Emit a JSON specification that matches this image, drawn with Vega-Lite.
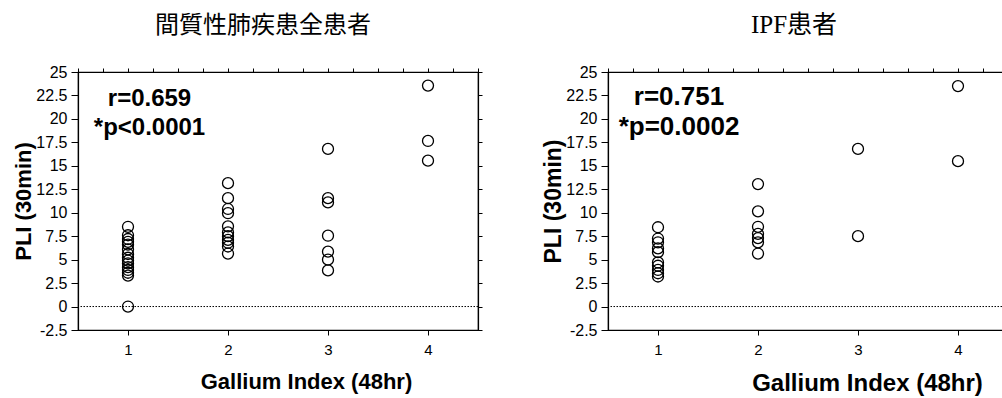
{
  "$schema": "https://vega.github.io/schema/vega-lite/v6.json",
  "padding": {"left": 12, "top": 12, "right": 0, "bottom": 0},
  "background": "white",
  "spacing": 58,
  "config": {
    "view": {"stroke": "black", "strokeWidth": 1.2},
    "axis": {"grid": false, "domainColor": "black", "tickColor": "black", "labelColor": "black", "titleColor": "black", "labelFont": "Liberation Sans", "titleFont": "Liberation Sans", "domainWidth": 1.2, "tickWidth": 1}
  },
  "datasets": {
    "all": [
      {"gallium": 1, "pli": 8.5}, {"gallium": 1, "pli": 7.6}, {"gallium": 1, "pli": 7.2}, {"gallium": 1, "pli": 6.9}, {"gallium": 1, "pli": 6.6},
      {"gallium": 1, "pli": 6.1}, {"gallium": 1, "pli": 5.6}, {"gallium": 1, "pli": 5.2}, {"gallium": 1, "pli": 4.9}, {"gallium": 1, "pli": 4.6},
      {"gallium": 1, "pli": 4.2}, {"gallium": 1, "pli": 3.9}, {"gallium": 1, "pli": 3.6}, {"gallium": 1, "pli": 3.3}, {"gallium": 1, "pli": 0},
      {"gallium": 2, "pli": 13.15}, {"gallium": 2, "pli": 11.55}, {"gallium": 2, "pli": 10.4}, {"gallium": 2, "pli": 9.95}, {"gallium": 2, "pli": 8.55},
      {"gallium": 2, "pli": 7.9}, {"gallium": 2, "pli": 7.5}, {"gallium": 2, "pli": 7.1}, {"gallium": 2, "pli": 6.8}, {"gallium": 2, "pli": 6.4}, {"gallium": 2, "pli": 5.65},
      {"gallium": 3, "pli": 16.8}, {"gallium": 3, "pli": 11.55}, {"gallium": 3, "pli": 11.1}, {"gallium": 3, "pli": 7.55}, {"gallium": 3, "pli": 5.85},
      {"gallium": 3, "pli": 5.0}, {"gallium": 3, "pli": 3.85},
      {"gallium": 4, "pli": 23.55}, {"gallium": 4, "pli": 17.65}, {"gallium": 4, "pli": 15.55}
    ],
    "ipf": [
      {"gallium": 1, "pli": 8.45}, {"gallium": 1, "pli": 7.25}, {"gallium": 1, "pli": 6.85}, {"gallium": 1, "pli": 6.2}, {"gallium": 1, "pli": 5.8},
      {"gallium": 1, "pli": 4.7}, {"gallium": 1, "pli": 4.35}, {"gallium": 1, "pli": 3.9}, {"gallium": 1, "pli": 3.55}, {"gallium": 1, "pli": 3.2},
      {"gallium": 2, "pli": 13.05}, {"gallium": 2, "pli": 10.15}, {"gallium": 2, "pli": 8.5}, {"gallium": 2, "pli": 7.75}, {"gallium": 2, "pli": 7.3},
      {"gallium": 2, "pli": 6.85}, {"gallium": 2, "pli": 5.65},
      {"gallium": 3, "pli": 16.8}, {"gallium": 3, "pli": 7.5},
      {"gallium": 4, "pli": 23.5}, {"gallium": 4, "pli": 15.5}
    ]
  },
  "hconcat": [
    {
      "width": 400,
      "height": 258,
      "title": {"text": "間質性肺疾患全患者", "font": "Liberation Serif, Noto Sans CJK JP", "fontSize": 24, "fontWeight": "normal", "color": "black", "dx": -15, "offset": 26},
      "layer": [
        {
          "data": {"name": "all"},
          "mark": {"type": "point", "shape": "circle", "filled": false, "stroke": "black", "strokeWidth": 1.3, "size": 121, "opacity": 1},
          "encoding": {
            "x": {"field": "gallium", "type": "quantitative", "scale": {"domain": [0.5, 4.5], "nice": false, "zero": false},
              "axis": {"orient": "bottom", "values": [1, 2, 3, 4], "tickSize": 5, "labelPadding": 7, "labelFontSize": 15, "title": "Gallium Index (48hr)", "titleFontSize": 22, "titleFontWeight": "bold", "titleX": 228, "titleAlign": "center", "titlePadding": 14}},
            "y": {"field": "pli", "type": "quantitative", "scale": {"domain": [-2.5, 25], "nice": false, "zero": false},
              "axis": {"orient": "left", "values": [-2.5, 0, 2.5, 5, 7.5, 10, 12.5, 15, 17.5, 20, 22.5, 25], "labelExpr": "toString(datum.value)", "tickSize": 7, "labelPadding": 4, "labelFontSize": 16, "title": "PLI (30min)", "titleFontSize": 22, "titleFontWeight": "bold", "titlePadding": 0}}
          }
        },
        {
          "data": {"values": [{}]},
          "mark": {"type": "text", "text": ["r=0.659", "*p<0.0001"], "align": "center", "baseline": "alphabetic", "fontSize": 24, "fontWeight": "bold", "font": "Liberation Sans", "lineHeight": 29, "color": "black"},
          "encoding": {
            "x": {"datum": 1.215, "type": "quantitative", "scale": {"domain": [0.5, 4.5], "nice": false, "zero": false},
              "axis": {"orient": "top", "values": [0.5, 0.75, 1, 1.25, 1.5, 1.75, 2, 2.25, 2.5, 2.75, 3, 3.25, 3.5, 3.75, 4, 4.25, 4.5], "labels": false, "tickSize": 4, "title": null}},
            "y": {"datum": 21.38, "type": "quantitative", "scale": {"domain": [-2.5, 25], "nice": false, "zero": false},
              "axis": {"orient": "right", "values": [-2.5, 0, 2.5, 5, 7.5, 10, 12.5, 15, 17.5, 20, 22.5, 25], "labels": false, "tickSize": 4, "title": null}}
          }
        },
        {
          "data": {"values": [{}]},
          "mark": {"type": "rule", "strokeDash": [1.5, 1.5], "color": "black", "strokeWidth": 1},
          "encoding": {"y": {"datum": 0, "type": "quantitative", "axis": null}}
        }
      ],
      "resolve": {"axis": {"x": "independent", "y": "independent"}}
    },
    {
      "width": 400,
      "height": 258,
      "title": {"text": "IPF患者", "font": "Liberation Serif, Noto Sans CJK JP", "fontSize": 25, "fontWeight": "normal", "color": "black", "dx": -14, "offset": 26},
      "layer": [
        {
          "data": {"name": "ipf"},
          "mark": {"type": "point", "shape": "circle", "filled": false, "stroke": "black", "strokeWidth": 1.3, "size": 121, "opacity": 1},
          "encoding": {
            "x": {"field": "gallium", "type": "quantitative", "scale": {"domain": [0.5, 4.5], "nice": false, "zero": false},
              "axis": {"orient": "bottom", "values": [1, 2, 3, 4], "tickSize": 5, "labelPadding": 7, "labelFontSize": 15, "title": "Gallium Index (48hr)", "titleFontSize": 24, "titleFontWeight": "bold", "titleX": 259, "titleAlign": "center", "titlePadding": 14}},
            "y": {"field": "pli", "type": "quantitative", "scale": {"domain": [-2.5, 25], "nice": false, "zero": false},
              "axis": {"orient": "left", "values": [-2.5, 0, 2.5, 5, 7.5, 10, 12.5, 15, 17.5, 20, 22.5, 25], "labelExpr": "toString(datum.value)", "tickSize": 7, "labelPadding": 4, "labelFontSize": 16, "title": "PLI (30min)", "titleFontSize": 23, "titleFontWeight": "bold", "titlePadding": 0}}
          }
        },
        {
          "data": {"values": [{}]},
          "mark": {"type": "text", "text": ["r=0.751", "*p=0.0002"], "align": "center", "baseline": "alphabetic", "fontSize": 26, "fontWeight": "bold", "font": "Liberation Sans", "lineHeight": 30, "color": "black"},
          "encoding": {
            "x": {"datum": 1.21, "type": "quantitative", "scale": {"domain": [0.5, 4.5], "nice": false, "zero": false},
              "axis": {"orient": "top", "values": [0.5, 0.75, 1, 1.25, 1.5, 1.75, 2, 2.25, 2.5, 2.75, 3, 3.25, 3.5, 3.75, 4, 4.25, 4.5], "labels": false, "tickSize": 4, "title": null}},
            "y": {"datum": 21.5, "type": "quantitative", "scale": {"domain": [-2.5, 25], "nice": false, "zero": false},
              "axis": {"orient": "right", "values": [-2.5, 0, 2.5, 5, 7.5, 10, 12.5, 15, 17.5, 20, 22.5, 25], "labels": false, "tickSize": 4, "title": null}}
          }
        },
        {
          "data": {"values": [{}]},
          "mark": {"type": "rule", "strokeDash": [1.5, 1.5], "color": "black", "strokeWidth": 1},
          "encoding": {"y": {"datum": 0, "type": "quantitative", "axis": null}}
        }
      ],
      "resolve": {"axis": {"x": "independent", "y": "independent"}}
    }
  ]
}
